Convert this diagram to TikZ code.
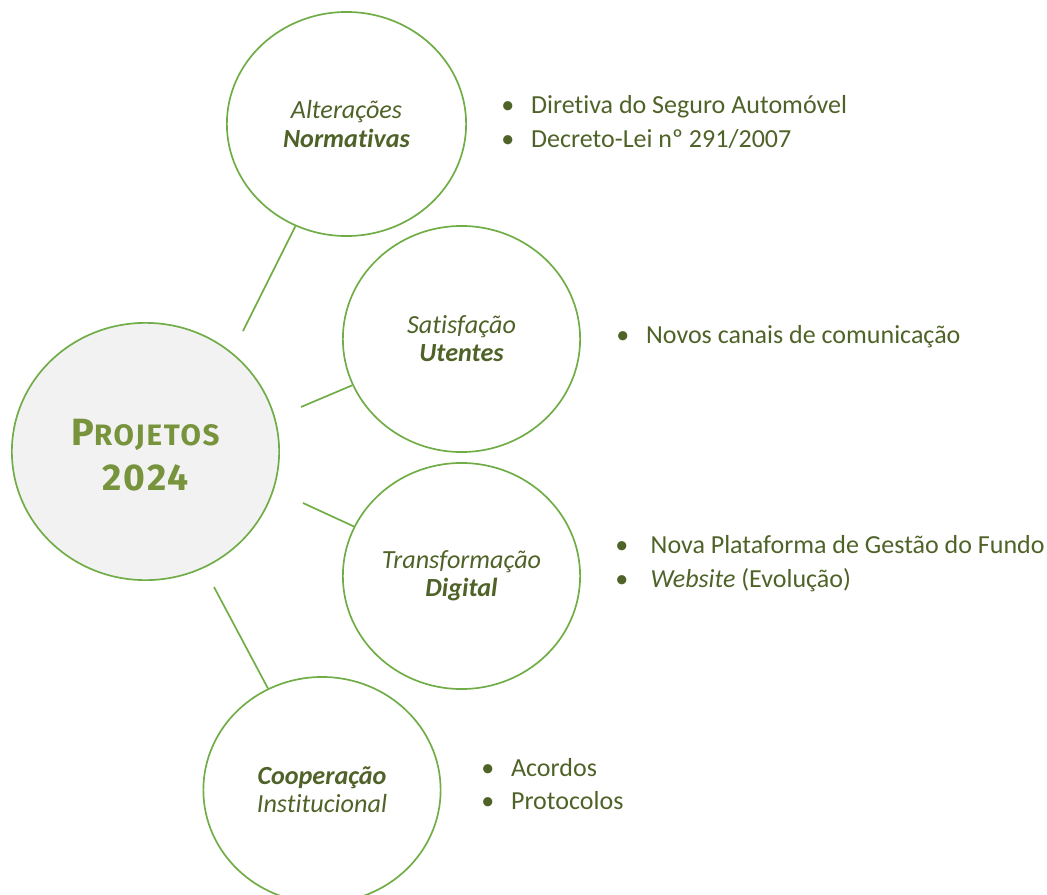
\documentclass[tikz,border=0pt]{standalone}
\usepackage{fontspec}
\setmainfont{Carlito}[Ligatures=CommonOff]
\newfontfamily\titlefont{Fira Sans}
\usetikzlibrary{shapes.geometric}

\definecolor{ringgreen}{HTML}{70AD47}
\definecolor{olivetext}{HTML}{4F6228}
\definecolor{titlegreen}{HTML}{77933C}
\definecolor{hubfill}{HTML}{F2F2F2}

\newcommand{\itm}{\textbullet\hspace{12pt}}

\tikzset{
  topic/.style={ellipse, draw=ringgreen, line width=1.2pt, inner sep=0pt,
    minimum width=5.93cm, minimum height=5.65cm, align=center,
    text=olivetext, font=\fontsize{18.6}{20}\selectfont},
  hubring/.style={topic, fill=hubfill, minimum width=6.68cm, minimum height=6.43cm},
  link/.style={draw=ringgreen, line width=1.2pt},
  bullets/.style={anchor=west, align=left, inner sep=0pt, text=olivetext,
    font=\fontsize{18.5}{24}\selectfont}
}

\begin{document}
\begin{tikzpicture}[x=0.025cm, y=-0.025cm]
	\useasboundingbox (0,0) rectangle (1047,895);

	% central circle
	\node[hubring] (hub) at (145.5,451.5) {};
	\node[text=titlegreen, align=center, font=\titlefont\bfseries\addfontfeatures{LetterSpace=6}]
		(hubText) at (145.5,455.5)
		{{\fontsize{27}{32}\selectfont P}{\fontsize{21}{32}\selectfont ROJETOS}\\[9pt]
		 {\fontsize{26.5}{32}\selectfont 2024}};

	% project areas
	\node[topic, minimum width=5.98cm, minimum height=5.6cm] (alt) at (346.5,124)
		{\itshape Alterações\\\bfseries\itshape Normativas};
	\node[topic] (sat) at (461.5,339) {\itshape Satisfação\\\bfseries\itshape Utentes};
	\node[topic] (dig) at (461.5,576) {\itshape Transformação\\\bfseries\itshape Digital};
	\node[topic] (coop) at (322,790) {\bfseries\itshape Cooperação\\\mdseries\itshape Institucional};

	% connectors, loose at the hub side
	\coordinate (altFoot) at (243,331);
	\coordinate (satFoot) at (301,407);
	\coordinate (digFoot) at (303,503);
	\coordinate (coopFoot) at (214,587);
	\draw[link] (altFoot) -- (alt);
	\draw[link] (satFoot) -- (sat);
	\draw[link] (digFoot) -- (dig);
	\draw[link] (coopFoot) -- (coop);

	% bullet lists
	\node[bullets] (altList) at (501,122)
		{\itm Diretiva do Seguro Automóvel\\\itm Decreto-Lei nº 291/2007};
	\node[bullets] (satList) at (616,337) {\itm Novos canais de comunicação};
	\node[bullets] (digList) at (615,564)
		{\textbullet\hspace{16pt}Nova Plataforma de Gestão do Fundo\\
		 \textbullet\hspace{16pt}\textit{Website} (Evolução)};
	\node[bullets] (coopList) at (481,784) {\itm Acordos\\\itm Protocolos};
\end{tikzpicture}
\end{document}
